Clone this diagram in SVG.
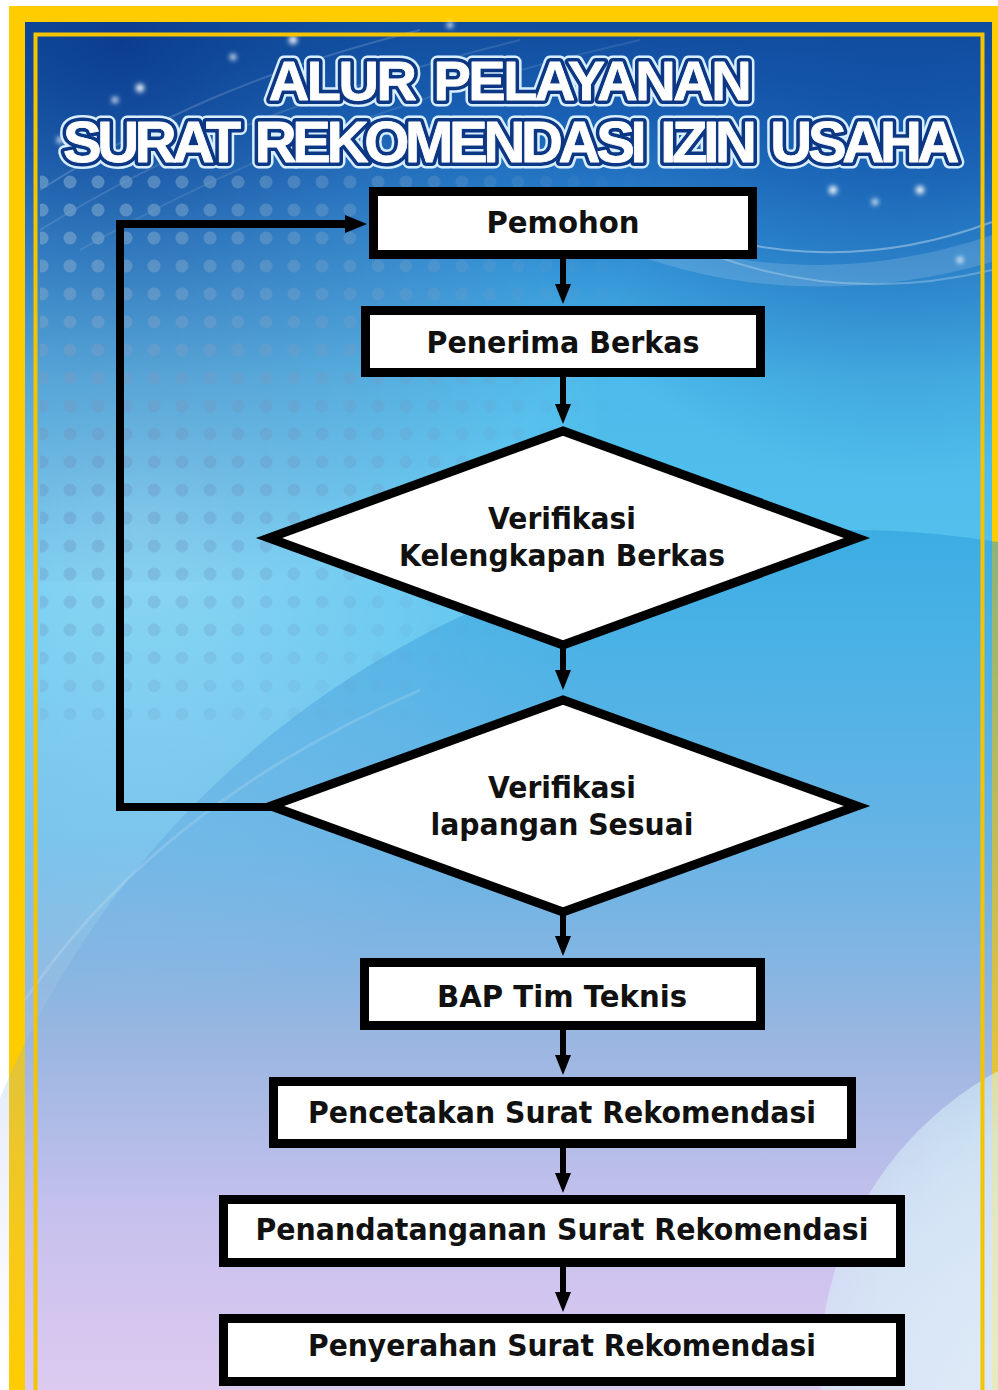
<svg xmlns="http://www.w3.org/2000/svg" width="998" height="1390" viewBox="0 0 998 1390">
<style>
.ttl{font-family:"Liberation Sans","DejaVu Sans",sans-serif;font-weight:bold;text-anchor:middle}
.halo{fill:none;stroke:#d6eeff;stroke-width:13;stroke-linejoin:round}
.tline{fill:#0c3784;stroke:#0c3784;stroke-width:8;stroke-linejoin:round}
.tmain{fill:#ffffff;stroke:#ffffff;stroke-width:0.8;stroke-linejoin:round}
.box{fill:#ffffff;stroke:#000000;stroke-width:9;stroke-linejoin:miter}
.lbl{font-family:"DejaVu Sans","Liberation Sans",sans-serif;font-weight:bold;font-size:30px;fill:#111111;text-anchor:middle}
.con{fill:none;stroke:#000000;stroke-width:6}
.fb{fill:none;stroke:#000000;stroke-width:8;stroke-linejoin:miter}
.spark{fill:#ffffff}
</style>
<defs>
  <linearGradient id="bg" x1="0" y1="22" x2="0" y2="1390" gradientUnits="userSpaceOnUse">
    <stop offset="0" stop-color="#114a9c"/>
    <stop offset="0.07" stop-color="#1d68bd"/>
    <stop offset="0.15" stop-color="#3394da"/>
    <stop offset="0.26" stop-color="#4cbbeb"/>
    <stop offset="0.45" stop-color="#56c2ee"/>
    <stop offset="0.6" stop-color="#6cbde9"/>
    <stop offset="0.74" stop-color="#a0badf"/>
    <stop offset="0.87" stop-color="#cbc3ee"/>
    <stop offset="1" stop-color="#dccaf0"/>
  </linearGradient>
  <radialGradient id="topdark" cx="120" cy="40" r="560" gradientUnits="userSpaceOnUse">
    <stop offset="0" stop-color="#0a3a8c" stop-opacity="0.85"/>
    <stop offset="0.5" stop-color="#12509f" stop-opacity="0.4"/>
    <stop offset="1" stop-color="#12509f" stop-opacity="0"/>
  </radialGradient>
  <radialGradient id="topright" cx="900" cy="60" r="420" gradientUnits="userSpaceOnUse">
    <stop offset="0" stop-color="#0f4ca0" stop-opacity="0.7"/>
    <stop offset="1" stop-color="#0f4ca0" stop-opacity="0"/>
  </radialGradient>
  <radialGradient id="leftlight" cx="140" cy="520" r="480" gradientUnits="userSpaceOnUse">
    <stop offset="0" stop-color="#ffffff" stop-opacity="0.35"/>
    <stop offset="1" stop-color="#ffffff" stop-opacity="0"/>
  </radialGradient>
  <linearGradient id="arcG" x1="0" y1="530" x2="0" y2="1390" gradientUnits="userSpaceOnUse">
    <stop offset="0" stop-color="#2a9edb" stop-opacity="0.55"/>
    <stop offset="0.45" stop-color="#6aa6e0" stop-opacity="0.35"/>
    <stop offset="1" stop-color="#c8b8ee" stop-opacity="0"/>
  </linearGradient>
  <radialGradient id="brG" cx="1160" cy="1370" r="340" gradientUnits="userSpaceOnUse">
    <stop offset="0" stop-color="#e6f7fa" stop-opacity="0.85"/>
    <stop offset="0.85" stop-color="#d8f1f8" stop-opacity="0.7"/>
    <stop offset="1" stop-color="#d8f1f8" stop-opacity="0.55"/>
  </radialGradient>
  <pattern id="dots" x="0" y="0" width="28" height="28" patternUnits="userSpaceOnUse">
    <circle cx="14" cy="14" r="6.5" fill="#6e9dc9"/>
  </pattern>
  <radialGradient id="dotfade" cx="40" cy="240" r="620" gradientUnits="userSpaceOnUse">
    <stop offset="0" stop-color="#ffffff" stop-opacity="0.8"/>
    <stop offset="0.55" stop-color="#ffffff" stop-opacity="0.4"/>
    <stop offset="1" stop-color="#ffffff" stop-opacity="0"/>
  </radialGradient>
  <mask id="dotmask" maskUnits="userSpaceOnUse" x="0" y="0" width="998" height="1390">
    <rect x="0" y="0" width="998" height="1390" fill="url(#dotfade)"/>
  </mask>
  <filter id="blur" x="-2" y="-2" width="5" height="5">
    <feGaussianBlur stdDeviation="2.5"/>
  </filter>
  <marker id="arr" viewBox="0 0 20 16" markerWidth="20" markerHeight="16" refX="6" refY="8" orient="auto" markerUnits="userSpaceOnUse">
    <path d="M0,0 L20,8 L0,16 Z" fill="#000000"/>
  </marker>
  <marker id="arrBig" viewBox="0 0 22 18" markerWidth="22" markerHeight="18" refX="7" refY="9" orient="auto" markerUnits="userSpaceOnUse">
    <path d="M0,0 L22,9 L0,18 Z" fill="#000000"/>
  </marker>
</defs>

<rect x="0" y="0" width="998" height="1390" fill="#ffffff"/>
<rect x="9" y="6" width="989" height="1384" fill="#ffcc00"/>
<g id="background">
  <rect x="25" y="22" width="967" height="1368" fill="url(#bg)"/>
  <rect x="25" y="22" width="967" height="1368" fill="url(#leftlight)"/>
  <circle cx="850" cy="1450" r="920" fill="url(#arcG)"/>
  <path d="M25,1000 C120,860 260,760 420,690" fill="none" stroke="#ffffff" stroke-opacity="0.15" stroke-width="3"/>
  <circle cx="1160" cy="1370" r="340" fill="url(#brG)"/>
  <rect x="25" y="22" width="967" height="560" fill="url(#topdark)"/>
  <rect x="25" y="22" width="967" height="480" fill="url(#topright)"/>
  <path d="M600,215 C720,275 860,280 992,235 L992,262 C860,300 720,295 600,240 Z" fill="#ffffff" fill-opacity="0.14"/>
  <path d="M620,200 C740,262 870,268 992,222" fill="none" stroke="#ffffff" stroke-opacity="0.35" stroke-width="2"/>
  <path d="M700,250 C800,290 900,292 992,270" fill="none" stroke="#ffffff" stroke-opacity="0.25" stroke-width="2"/>
  <path d="M40,190 C150,120 260,70 420,30" fill="none" stroke="#ffffff" stroke-opacity="0.16" stroke-width="2"/>
  <path d="M40,230 C170,150 300,95 520,40" fill="none" stroke="#ffffff" stroke-opacity="0.12" stroke-width="2"/>
  <path d="M80,250 C220,170 380,100 640,40" fill="none" stroke="#ffffff" stroke-opacity="0.1" stroke-width="2"/>
  <rect x="40" y="168" width="620" height="560" fill="url(#dots)" mask="url(#dotmask)"/>
  <g filter="url(#blur)">
    <circle class="spark" cx="140" cy="88" r="4"/>
    <circle class="spark" cx="115" cy="100" r="3"/>
    <circle class="spark" cx="233" cy="57" r="3"/>
    <circle class="spark" cx="293" cy="40" r="4"/>
    <circle class="spark" cx="450" cy="25" r="3"/>
    <circle class="spark" cx="60" cy="140" r="3"/>
    <circle class="spark" cx="833" cy="190" r="4"/>
    <circle class="spark" cx="875" cy="202" r="3"/>
    <circle class="spark" cx="920" cy="190" r="4"/>
    <circle class="spark" cx="897" cy="145" r="3"/>
    <circle class="spark" cx="960" cy="260" r="3"/>
  </g>
  <rect x="35.5" y="34.5" width="947" height="1370" fill="none" stroke="#f5c400" stroke-width="4"/>
</g>

<g id="title">
  <text class="ttl halo" x="509" y="100" font-size="56" letter-spacing="-2.5" word-spacing="6">ALUR PELAYANAN</text>
  <text class="ttl tline" x="509" y="100" font-size="56" letter-spacing="-2.5" word-spacing="6">ALUR PELAYANAN</text>
  <text class="ttl tmain" x="509" y="100" font-size="56" letter-spacing="-2.5" word-spacing="6">ALUR PELAYANAN</text>
  <text class="ttl halo" x="509" y="162" font-size="58" letter-spacing="-4.3" word-spacing="6">SURAT REKOMENDASI IZIN USAHA</text>
  <text class="ttl tline" x="509" y="162" font-size="58" letter-spacing="-4.3" word-spacing="6">SURAT REKOMENDASI IZIN USAHA</text>
  <text class="ttl tmain" x="509" y="162" font-size="58" letter-spacing="-4.3" word-spacing="6">SURAT REKOMENDASI IZIN USAHA</text>
</g>

<g id="connectors">
  <path class="con" d="M563,259 V290" marker-end="url(#arr)"/>
  <path class="con" d="M563,377 V410" marker-end="url(#arr)"/>
  <path class="con" d="M563,648 V676" marker-end="url(#arr)"/>
  <path class="con" d="M563,915 V942" marker-end="url(#arr)"/>
  <path class="con" d="M563,1030 V1061" marker-end="url(#arr)"/>
  <path class="con" d="M563,1148 V1179" marker-end="url(#arr)"/>
  <path class="con" d="M563,1267 V1298" marker-end="url(#arr)"/>
  <path class="fb" d="M272,807 H120 V224 H352" marker-end="url(#arrBig)"/>
</g>

<g id="node-pemohon">
  <rect class="box" x="373.5" y="191.5" width="379" height="63"/>
  <text class="lbl" x="563" y="233" textLength="153" lengthAdjust="spacingAndGlyphs">Pemohon</text>
</g>
<g id="node-penerima">
  <rect class="box" x="365.5" y="310.5" width="395" height="62"/>
  <text class="lbl" x="563" y="353" textLength="273" lengthAdjust="spacingAndGlyphs">Penerima Berkas</text>
</g>
<g id="node-verifikasi-kelengkapan">
  <polygon class="box" points="563,431 857,538 563,645 269,538"/>
  <text class="lbl" x="562" y="529" textLength="148" lengthAdjust="spacingAndGlyphs">Verifikasi</text>
  <text class="lbl" x="562" y="566" textLength="326" lengthAdjust="spacingAndGlyphs">Kelengkapan Berkas</text>
</g>
<g id="node-verifikasi-lapangan">
  <polygon class="box" points="563,700 857,806 563,912 271,806"/>
  <text class="lbl" x="562" y="798" textLength="148" lengthAdjust="spacingAndGlyphs">Verifikasi</text>
  <text class="lbl" x="562" y="835" textLength="263" lengthAdjust="spacingAndGlyphs">lapangan Sesuai</text>
</g>
<g id="node-bap">
  <rect class="box" x="364.5" y="962.5" width="396" height="63"/>
  <text class="lbl" x="562" y="1007" textLength="250" lengthAdjust="spacingAndGlyphs">BAP Tim Teknis</text>
</g>
<g id="node-pencetakan">
  <rect class="box" x="273.5" y="1081.5" width="578" height="62"/>
  <text class="lbl" x="562" y="1123" textLength="508" lengthAdjust="spacingAndGlyphs">Pencetakan Surat Rekomendasi</text>
</g>
<g id="node-penandatanganan">
  <rect class="box" x="223.5" y="1199.5" width="677" height="63"/>
  <text class="lbl" x="562" y="1240" textLength="613" lengthAdjust="spacingAndGlyphs">Penandatanganan Surat Rekomendasi</text>
</g>
<g id="node-penyerahan">
  <rect class="box" x="223.5" y="1318.5" width="677" height="63"/>
  <text class="lbl" x="562" y="1356" textLength="508" lengthAdjust="spacingAndGlyphs">Penyerahan Surat Rekomendasi</text>
</g>
</svg>
